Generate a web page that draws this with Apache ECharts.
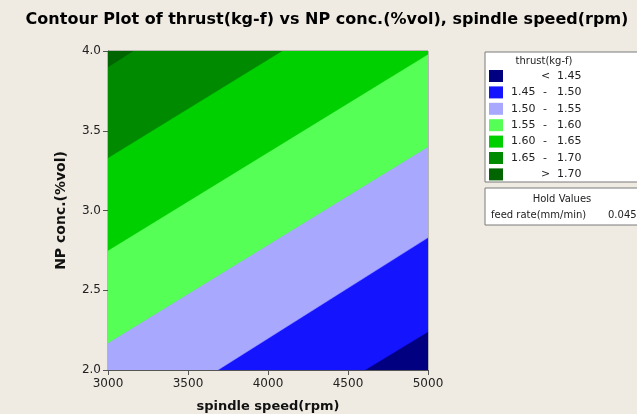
<!DOCTYPE html>
<html>
<head>
<meta charset="utf-8">
<script src="https://cdn.jsdelivr.net/npm/echarts@6/dist/echarts.min.js"></script>
<style>
html,body{margin:0;padding:0;background:#efebe2;}
#chart{width:637px;height:414px;}
</style>
</head>
<body>
<div id="chart"></div>
<script>
// ---- data ----
const levels = [1.45, 1.50, 1.55, 1.60, 1.65, 1.70];
const bandColors = ['#000080', '#1414ff', '#a8a8ff', '#55ff55', '#00d000', '#008a00', '#006400'];
// where each contour line enters (left/bottom edge) and leaves (right/top edge) the plot
const boundaryStart = [[4606, 2.0], [3687, 2.0], [3000, 2.17], [3000, 2.75], [3000, 3.33], [3000, 3.90]];
const boundaryEnd = [[5000, 2.24], [5000, 2.83], [5000, 3.40], [5000, 3.98], [4087, 4.0], [3156, 4.0]];
const xRange = [3000, 5000];
const yRange = [2.0, 4.0];
const holdName = 'feed rate(mm/min)';
const holdValue = '0.045';

// build band polygons (region above-left of each contour line)
function bandPolygon(i) {
  const [x0, x1] = xRange, [y0, y1] = yRange;
  if (i === 0) return [[x0, y0], [x1, y0], [x1, y1], [x0, y1]];
  const s = boundaryStart[i - 1], e = boundaryEnd[i - 1];
  const pts = [s, e];
  if (e[0] === x1) pts.push([x1, y1]);
  pts.push([x0, y1]);
  if (s[1] === y0) pts.push([x0, y0]);
  return pts;
}

const chart = echarts.init(document.getElementById('chart'), null, {renderer: 'canvas'});

const gLeft = 108, gTop = 51, gW = 320, gH = 319;

// legend graphics
const legendItems = [];
const lx = 485, ly = 52;
legendItems.push({type: 'rect', shape: {x: lx, y: ly, width: 160, height: 130}, style: {fill: '#ffffff', stroke: '#7a7a7a', lineWidth: 1}});
legendItems.push({type: 'text', style: {x: 544, y: 61, text: 'thrust(kg-f)', fill: '#222', font: '10px "DejaVu Sans"', textAlign: 'center', textVerticalAlign: 'middle'}});
const labels = [];
labels.push(['', '<', levels[0].toFixed(2)]);
for (let i = 0; i < levels.length - 1; i++) labels.push([levels[i].toFixed(2), '-', levels[i + 1].toFixed(2)]);
labels.push(['', '>', levels[levels.length - 1].toFixed(2)]);
labels.forEach((lab, i) => {
  const cy = 76 + i * 16.4;
  legendItems.push({type: 'rect', shape: {x: 489, y: cy - 6, width: 14, height: 12}, style: {fill: bandColors[i]}});
  const f = '11px "DejaVu Sans"';
  if (lab[0]) legendItems.push({type: 'text', style: {x: 511, y: cy, text: lab[0], fill: '#222', font: f, textVerticalAlign: 'middle'}});
  legendItems.push({type: 'text', style: {x: lab[1] === '-' ? 543 : 541, y: cy, text: lab[1], fill: '#222', font: f, textVerticalAlign: 'middle'}});
  legendItems.push({type: 'text', style: {x: 557, y: cy, text: lab[2], fill: '#222', font: f, textVerticalAlign: 'middle'}});
});
legendItems.push({type: 'rect', shape: {x: lx, y: 188, width: 160, height: 37}, style: {fill: '#ffffff', stroke: '#7a7a7a', lineWidth: 1}});
legendItems.push({type: 'text', style: {x: 562, y: 199, text: 'Hold Values', fill: '#222', font: '10px "DejaVu Sans"', textAlign: 'center', textVerticalAlign: 'middle'}});
legendItems.push({type: 'text', style: {x: 491, y: 215, text: holdName, fill: '#222', font: '10px "DejaVu Sans"', textVerticalAlign: 'middle'}});
legendItems.push({type: 'text', style: {x: 608, y: 215, text: holdValue, fill: '#222', font: '10px "DejaVu Sans"', textVerticalAlign: 'middle'}});

const option = {
  backgroundColor: '#efebe2',
  animation: false,
  title: {
    text: 'Contour Plot of thrust(kg-f) vs NP conc.(%vol), spindle speed(rpm)',
    left: 322, top: 7, textAlign: 'center',
    textStyle: {fontFamily: 'DejaVu Sans', fontWeight: 'bold', fontSize: 16, color: '#000'}
  },
  grid: {left: gLeft, top: gTop, width: gW, height: gH, show: true, borderColor: '#808080', borderWidth: 1, backgroundColor: 'transparent', outerBoundsMode: 'none', containLabel: false},
  xAxis: {
    type: 'value', min: xRange[0], max: xRange[1], interval: 500,
    name: 'spindle speed(rpm)', nameLocation: 'middle', nameGap: 30,
    nameTextStyle: {fontFamily: 'DejaVu Sans', fontWeight: 'bold', fontSize: 13, color: '#111'},
    axisLine: {show: true, lineStyle: {color: '#555'}},
    axisTick: {show: true, length: 5, lineStyle: {color: '#555'}},
    axisLabel: {color: '#222', fontFamily: 'DejaVu Sans', fontSize: 12, margin: 8, formatter: v => String(v)},
    splitLine: {show: false}
  },
  yAxis: {
    type: 'value', min: yRange[0], max: yRange[1], interval: 0.5,
    name: 'NP conc.(%vol)', nameLocation: 'middle', nameGap: 40,
    nameTextStyle: {fontFamily: 'DejaVu Sans', fontWeight: 'bold', fontSize: 14, color: '#111'},
    axisLine: {show: true, lineStyle: {color: '#555'}},
    axisTick: {show: true, length: 5, lineStyle: {color: '#555'}},
    axisLabel: {color: '#222', fontFamily: 'DejaVu Sans', fontSize: 12, margin: 7, formatter: v => v.toFixed(1)},
    splitLine: {show: false}
  },
  series: [{
    type: 'custom',
    clip: true,
    data: bandColors.map((c, i) => [xRange[0], yRange[0], i]),
    encode: {x: 0, y: 1},
    renderItem: function (params, api) {
      const i = api.value(2);
      const pts = bandPolygon(i).map(p => api.coord(p));
      return {type: 'polygon', shape: {points: pts}, style: {fill: bandColors[i], stroke: bandColors[i], lineWidth: 0.5}};
    },
    z: 1
  }],
  graphic: legendItems
};
chart.setOption(option);
</script>
</body>
</html>
